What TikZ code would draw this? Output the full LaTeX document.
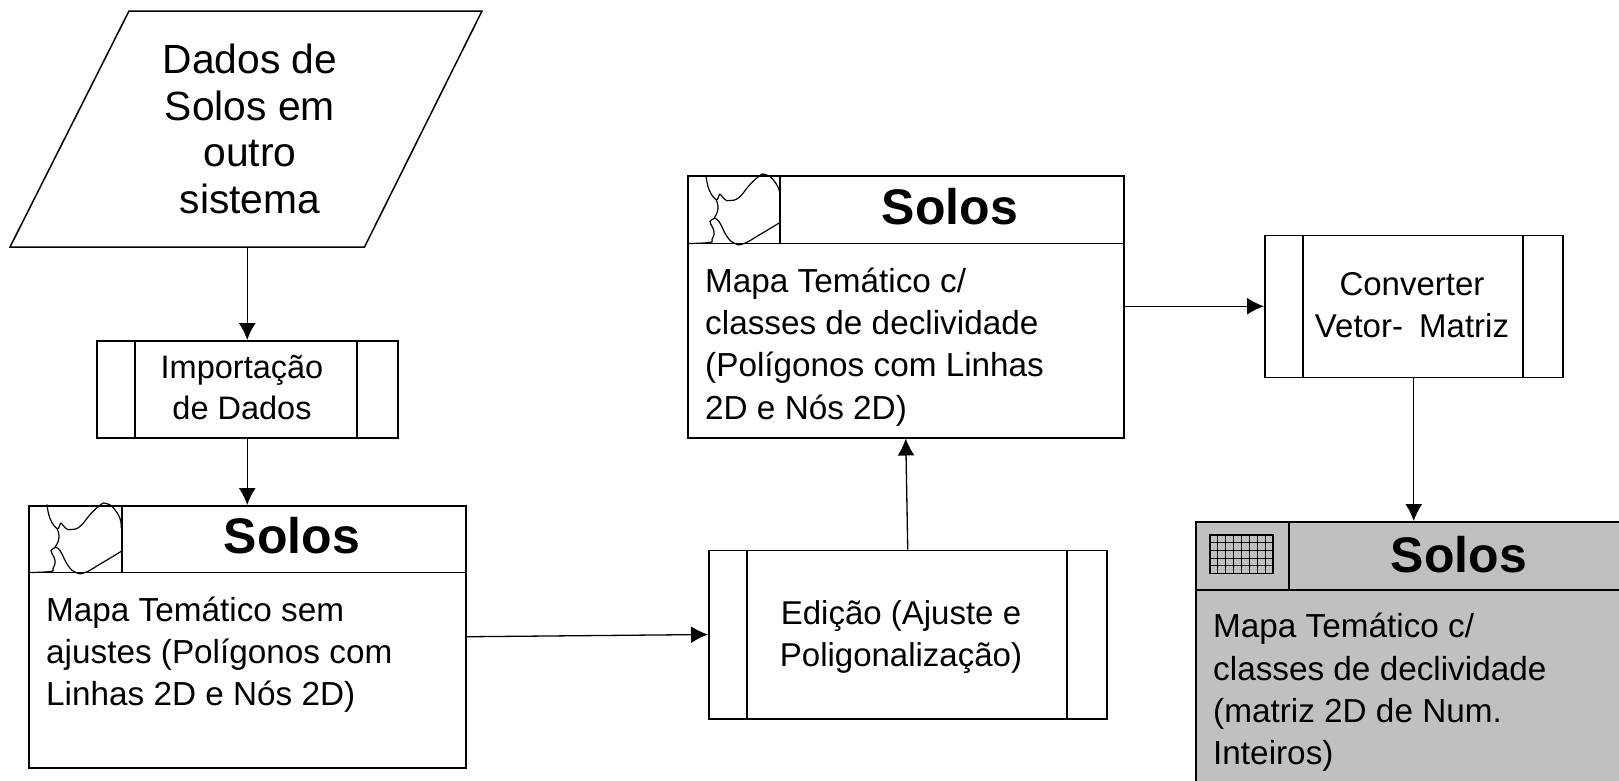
\documentclass[tikz,border=0pt]{standalone}
\usepackage{fontspec}
\setmainfont{Liberation Sans}
\usetikzlibrary{arrows.meta}
\tikzset{
  x=1pt,y=-1pt,
  bx/.style={draw=black,line width=1.5pt,rectangle,inner sep=0pt,anchor=north west},
  bignote/.style={font=\fontsize{40.8}{46.5}\selectfont,align=center,inner sep=0pt},
  txt/.style={font=\fontsize{33.3}{42.3}\selectfont,align=left,inner sep=0pt,anchor=north west},
  ctxt/.style={font=\fontsize{32.5}{41}\selectfont,align=center,inner sep=0pt},
  ctxtb/.style={font=\fontsize{33}{42.7}\selectfont,align=center,inner sep=0pt},
  ttl/.style={font=\fontsize{50}{56}\bfseries\selectfont,inner sep=0pt},
  conn/.style={draw=black,line width=1.3pt,-{Latex[length=17pt,width=17pt]}},
  ln/.style={draw=black,line width=1.4pt},
}
\definecolor{boxgrey}{RGB}{192,192,192}
\newcommand{\mapicon}[2]{%
 \begin{scope}[shift={(#1,#2)}]
  \draw[line width=1.2pt] plot[smooth,tension=0.8] coordinates {(19,0)(22,14)(29,24)(32,20)(33.5,19)(38,24)(43,25)(52,22)(63,9)(73,0)(78,-1)(85,3)(92,14)(93,23)};
  \draw[line width=1.2pt] plot[smooth,tension=0.8] coordinates {(29,24)(31,33)(27,43)(23,46)(27,56)(25,64)(22,67)(0,68)};
  \draw[line width=1.2pt] plot[smooth,tension=0.8] coordinates {(27,43)(32,46)(40,61)(48,68)(57,68)(73,59)(93,47)};
 \end{scope}}
\newcommand{\procbox}[7]{% name,x0,y0,x1,y1,innerL,innerR
 \pgfmathsetlengthmacro{\pbw}{(#4-#2)*1pt}\pgfmathsetlengthmacro{\pbh}{(#5-#3)*1pt}
 \node[bx,minimum width=\pbw,minimum height=\pbh] (#1) at (#2,#3) {};
 \draw[ln] (#6,#3) -- (#6,#5) (#7,#3) -- (#7,#5);}
\begin{document}
\begin{tikzpicture}
\useasboundingbox (0,0) rectangle (1619,780);
\clip (0,0) rectangle (1619,780);
% parallelogram
\draw[line width=1.5pt] (129,11) -- (482,11) -- (364.5,247) -- (10,247) -- cycle;
\node[bignote,minimum width=200pt,minimum height=236pt] (dados) at (250,129) {Dados de\\Solos em\\outro\\sistema};
% process boxes
\procbox{imp}{96}{340}{397}{437}{135}{357}
\node[ctxt] (imptxt) at (242,387.5) {Importação\\de Dados};
\procbox{edi}{708}{549.5}{1106}{718}{747}{1067}
\node[ctxtb] (editxt) at (901,637) {Edição (Ajuste e\\Poligonalização)};
\procbox{con}{1264}{234.5}{1562}{376.5}{1303}{1523}
\node[ctxtb] (contxt) at (1412,305) {Converter\\Vetor-\hspace{7pt} Matriz};
% map 1
\node[bx,minimum width=437pt,minimum height=262pt] (m1) at (28,505) {};
\draw[ln] (28,572.5) -- (465,572.5) (122,505) -- (122,572.5);
\mapicon{28}{504.5}
\node[ttl] (m1t) at (292,536) {Solos};
\node[txt] (m1b) at (46,596.5) {Mapa Temático sem\\ajustes (Polígonos com\\Linhas 2D e Nós 2D)};
% map 2
\node[bx,minimum width=436pt,minimum height=262pt] (m2) at (687,175) {};
\draw[ln] (687,243.5) -- (1123,243.5) (780,175) -- (780,243.5);
\mapicon{687}{175.5}
\node[ttl] (m2t) at (950,206.5) {Solos};
\node[txt] (m2b) at (705,267.5) {Mapa Temático c/\\classes de declividade\\(Polígonos com Linhas\\2D e Nós 2D)};
% map 3
\node[bx,fill=boxgrey,minimum width=438pt,minimum height=300pt] (m3) at (1195,521) {};
\draw[ln] (1195,590) -- (1633,590) (1289,521) -- (1289,590);
\foreach \i in {1,...,7} \draw[line width=0.9pt] ({1210+\i*7.875},535) -- ({1210+\i*7.875},573.5);
\foreach \j in {1,...,4} \draw[line width=0.9pt] (1210,{535+\j*7.7}) -- (1273,{535+\j*7.7});
\draw[line width=1.2pt] (1210,535) rectangle (1273,573.5);
\node[ttl] (m3t) at (1459,555) {Solos};
\node[txt] (m3b) at (1213,613) {Mapa Temático c/\\classes de declividade\\(matriz 2D de Num.\\Inteiros)};
% connectors
\draw[conn] (imp.north |- dados.south) -- (imp.north);
\draw[conn] (imp.south) -- (m1.north);
\draw[conn] (m1.east) -- (edi.west);
\draw[conn] (edi.north) -- (m2.south);
\draw[conn] (m2.east |- con.west) -- (con.west);
\draw[conn] (con.south) -- (con.south |- m3.north);
\end{tikzpicture}
\end{document}
